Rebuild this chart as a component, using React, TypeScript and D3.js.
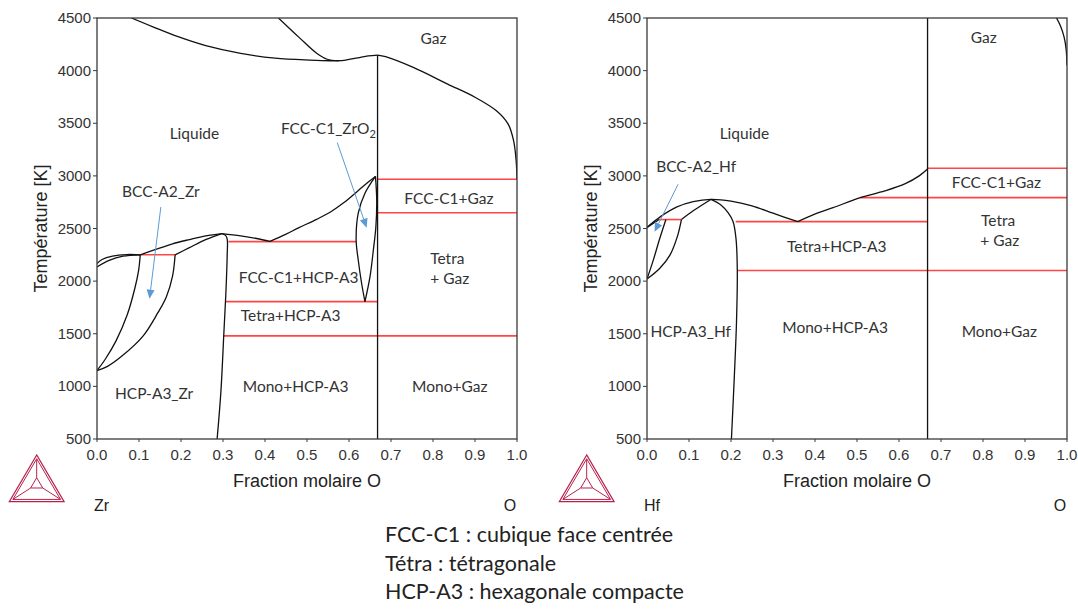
import React from "react";
import * as d3 from "d3";

// ---------- data (composition X = fraction molaire O, T in K) ----------
const xTicks = [0, 0.1, 0.2, 0.3, 0.4, 0.5, 0.6, 0.7, 0.8, 0.9, 1.0];
const yTicks = [500, 1000, 1500, 2000, 2500, 3000, 3500, 4000, 4500];

// Zr-O
const zrGasLiquidA = [[0.082,4500],[0.136,4411],[0.193,4322],[0.259,4237],[0.342,4164],[0.424,4119],[0.506,4100],[0.556,4094],[0.588,4098],[0.621,4122],[0.646,4140],[0.668,4148]];
const zrGasLiquidB = [[0.432,4500],[0.481,4316],[0.523,4165],[0.548,4108],[0.575,4094]];
const zrGasDew = [[0.668,4148],[0.687,4132],[0.753,4030],[0.835,3872],[0.901,3745],[0.951,3618],[0.979,3491],[0.992,3332],[0.998,3142],[1.0,2968]];
const zrOxideLine = [[0.668,4148],[0.668,500]];
const zrLiquidusLeftA = [[0,2167],[0.012,2205],[0.037,2237],[0.07,2252],[0.103,2250]];
const zrLiquidusLeftB = [[0,2135],[0.029,2198],[0.062,2237],[0.103,2250]];
const zrLiquidusMid = [[0.103,2250],[0.14,2302],[0.18,2355],[0.22,2395],[0.259,2430],[0.297,2452]];
const zrHcpSolidusUp = [[0.186,2250],[0.22,2318],[0.26,2396],[0.297,2452]];
const zrLiquidusPeakRight = [[0.297,2452],[0.342,2430],[0.38,2405],[0.412,2378]];
const zrLiquidusRight = [[0.412,2378],[0.449,2444],[0.481,2508],[0.523,2587],[0.556,2657],[0.588,2746],[0.621,2857],[0.646,2942],[0.663,2995]];
const zrHcpBoundary = [[0.297,2452],[0.306,2435],[0.310,2400],[0.310,2250],[0.307,1900],[0.302,1500],[0.295,950],[0.286,500]];
const zrFccLeft = [[0.663,2995],[0.638,2835],[0.622,2645],[0.617,2391],[0.622,2201],[0.630,1980],[0.638,1805]];
const zrFccRight = [[0.663,2995],[0.666,2771],[0.664,2517],[0.658,2296],[0.650,2042],[0.638,1805]];
const zrBccLeft = [[0.103,2250],[0.099,2100],[0.090,1930],[0.072,1680],[0.045,1430],[0.02,1260],[0,1150]];
const zrBccRight = [[0.186,2250],[0.180,2050],[0.165,1850],[0.145,1700],[0.110,1480],[0.06,1290],[0.025,1190],[0,1150]];
const zrInvariantT = [2968, 2650, 2375, 2250, 1805, 1480];
const zrInvariantFrom = [0.668, 0.668, 0.313, 0.103, 0.306, 0.300];
const zrInvariantTo = [1.0, 1.0, 0.617, 0.186, 0.668, 1.0];
const zrLabels = ["Gaz", "Liquide", "FCC-C1+Gaz", "Tetra", "+ Gaz", "FCC-C1+HCP-A3", "Tetra+HCP-A3", "HCP-A3_Zr", "Mono+HCP-A3", "Mono+Gaz", "BCC-A2_Zr", "FCC-C1_ZrO"];
const zrLabelX = [0.801, 0.232, 0.838, 0.834, 0.840, 0.480, 0.461, 0.136, 0.473, 0.840, 0.152, 0.551];
const zrLabelT = [4300, 3402, 2784, 2206, 2016, 2032, 1668, 929, 998, 998, 2850, 3450];
const zrArrows = [[[0.572,3317],[0.642,2508]], [[0.152,2704],[0.125,1833]]];

// Hf-O
const hfGasDew = [[0.975,4500],[0.985,4420],[0.993,4320],[0.998,4200],[1.0,4050]];
const hfOxideLine = [[0.668,4500],[0.668,500]];
const hfLiquidusLeft = [[0,2510],[0.033,2615],[0.07,2703],[0.11,2755],[0.152,2776],[0.2,2760],[0.25,2715],[0.3,2645],[0.359,2565]];
const hfLiquidusRight = [[0.359,2565],[0.402,2641],[0.443,2698],[0.508,2793],[0.566,2857],[0.615,2926],[0.648,3000],[0.668,3065]];
const hfBccTop = [[0,2510],[0.029,2585]];
const hfBccLeft = [[0.045,2585],[0.03,2400],[0.015,2200],[0,2020]];
const hfBccRight = [[0.082,2585],[0.072,2420],[0.055,2250],[0.030,2120],[0,2020]];
const hfSolidusUp = [[0.082,2585],[0.11,2668],[0.152,2776]];
const hfHcpBoundary = [[0.152,2776],[0.176,2723],[0.193,2650],[0.205,2565],[0.212,2400],[0.215,2100],[0.213,1600],[0.208,1100],[0.201,500]];
const hfInvariantT = [3072, 2793, 2565, 2101, 2585];
const hfInvariantFrom = [0.668, 0.508, 0.211, 0.215, 0.029];
const hfInvariantTo = [1.0, 1.0, 0.668, 1.0, 0.082];
const hfLabels = ["Gaz", "Liquide", "BCC-A2_Hf", "FCC-C1+Gaz", "Tetra", "+ Gaz", "Tetra+HCP-A3", "HCP-A3_Hf", "Mono+HCP-A3", "Mono+Gaz"];
const hfLabelX = [0.802, 0.232, 0.117, 0.832, 0.836, 0.840, 0.452, 0.104, 0.448, 0.839];
const hfLabelT = [4307, 3402, 3088, 2936, 2571, 2381, 2324, 1516, 1554, 1516];
const hfArrows = [[[0.074,2920],[0.018,2470]]];

const legendLines = ["FCC-C1 : cubique face centrée", "Tétra : tétragonale", "HCP-A3 : hexagonale compacte"];

// ---------- drawing ----------
const W = 1078, H = 611;
const TOP = 18, BOTTOM = 439;
const LINE = "#111";
const RED = "#ff4646";
const BLUE = "#5b9bd5";
const LOGO = "#b8204d";
const SANS = "Liberation Sans, Arial, sans-serif";
const LAB = "Lato, Carlito, sans-serif";

function Arrow({ x1, y1, x2, y2 }) {
  const ang = Math.atan2(y2 - y1, x2 - x1);
  const L = 9, Wd = 4;
  const bx = x2 - L * Math.cos(ang), by = y2 - L * Math.sin(ang);
  const px = -Math.sin(ang) * Wd, py = Math.cos(ang) * Wd;
  return (
    <g>
      <line x1={x1} y1={y1} x2={bx} y2={by} stroke={BLUE} strokeWidth={1} />
      <path d={`M${x2},${y2}L${bx + px},${by + py}L${bx - px},${by - py}Z`} fill={BLUE} />
    </g>
  );
}

function Logo({ cx }) {
  const apex = [cx, 455], bl = [cx - 27.4, 501.7], br = [cx + 27.4, 501.7];
  const c = [cx, (455 + 501.7 * 2) / 3 - 2];
  const sc = (p, k) => [c[0] + (p[0] - c[0]) * k, c[1] + (p[1] - c[1]) * k];
  const tri = (k) => {
    const a = sc(apex, k), b = sc(bl, k), d = sc(br, k);
    return `M${a[0]},${a[1]}L${b[0]},${b[1]}L${d[0]},${d[1]}Z`;
  };
  const inner = [sc(apex, 0.87), sc(bl, 0.87), sc(br, 0.87)];
  const small = [sc(apex, 0.22), sc(bl, 0.22), sc(br, 0.22)];
  return (
    <g stroke={LOGO} strokeWidth={1} fill="none">
      <path d={tri(1)} strokeWidth={1.2} />
      <path d={tri(0.87)} />
      <path d={tri(0.22)} />
      {inner.map((p, i) => (
        <line key={i} x1={p[0]} y1={p[1]} x2={small[i][0]} y2={small[i][1]} />
      ))}
    </g>
  );
}

function Panel({ x0, x1, curves, smooth, invT, invFrom, invTo, labels, labelX, labelT, arrows, elem, sub }) {
  const x = d3.scaleLinear().domain([0, 1]).range([x0, x1]);
  const y = d3.scaleLinear().domain([500, 4500]).range([BOTTOM, TOP]);
  const lineSmooth = d3.line().x((d) => x(d[0])).y((d) => y(d[1])).curve(d3.curveCatmullRom.alpha(0.5));
  const lineStraight = d3.line().x((d) => x(d[0])).y((d) => y(d[1]));
  const tickFont = { fontFamily: SANS, fontSize: 15, fill: "#333" };
  const labFont = { fontFamily: LAB, fontSize: 15.5, fill: "#333" };
  const midY = (TOP + BOTTOM) / 2;
  return (
    <g>
      <defs>
        <clipPath id={`clip-${x0}`}>
          <rect x={x0} y={TOP} width={x1 - x0} height={BOTTOM - TOP} />
        </clipPath>
      </defs>
      <g clipPath={`url(#clip-${x0})`}>
        {invT.map((t, i) => (
          <line key={i} x1={x(invFrom[i])} x2={x(invTo[i])} y1={y(t)} y2={y(t)} stroke={RED} strokeWidth={1.6} />
        ))}
        {curves.map((c, i) => (
          <path key={i} d={(smooth[i] ? lineSmooth : lineStraight)(c)} fill="none" stroke={LINE} strokeWidth={1.3} />
        ))}
      </g>
      <rect x={x0} y={TOP} width={x1 - x0} height={BOTTOM - TOP} fill="none" stroke="#3a3a3a" strokeWidth={1.3} />
      {yTicks.map((t) => (
        <g key={t}>
          <line x1={x0 - 4} x2={x0} y1={y(t)} y2={y(t)} stroke="#3a3a3a" strokeWidth={1} />
          <text x={x0 - 6} y={y(t) + 5} textAnchor="end" {...tickFont}>{t}</text>
        </g>
      ))}
      {xTicks.map((t) => (
        <g key={t}>
          <line x1={x(t)} x2={x(t)} y1={BOTTOM} y2={BOTTOM + 3} stroke="#3a3a3a" strokeWidth={1} />
          <text x={x(t)} y={BOTTOM + 21} textAnchor="middle" {...tickFont}>{t.toFixed(1)}</text>
        </g>
      ))}
      <text x={(x0 + x1) / 2} y={487} textAnchor="middle" fontFamily={SANS} fontSize={18} fill="#222">Fraction molaire O</text>
      <text transform={`translate(${x0 - 50},${midY}) rotate(-90)`} textAnchor="middle" fontFamily={SANS} fontSize={18} fill="#222">Température [K]</text>
      <text x={x0 - 3} y={511} fontFamily={SANS} fontSize={16} fill="#222">{elem}</text>
      <text x={x1 - 7} y={511} textAnchor="middle" fontFamily={SANS} fontSize={16} fill="#222">O</text>
      {labels.map((s, i) => (
        <text key={i} x={x(labelX[i])} y={y(labelT[i]) + 5} textAnchor="middle" {...labFont}>
          {s}
          {sub && s === "FCC-C1_ZrO" ? <tspan fontSize={11} dy={4}>2</tspan> : null}
        </text>
      ))}
      {arrows.map((a, i) => (
        <Arrow key={i} x1={x(a[0][0])} y1={y(a[0][1])} x2={x(a[1][0])} y2={y(a[1][1])} />
      ))}
      <Logo cx={x0 - 60.3} />
    </g>
  );
}

export default function App() {
  const zrCurves = [zrGasLiquidA, zrGasLiquidB, zrGasDew, zrOxideLine, zrLiquidusLeftA, zrLiquidusLeftB, zrLiquidusMid, zrHcpSolidusUp, zrLiquidusPeakRight, zrLiquidusRight, zrHcpBoundary, zrFccLeft, zrFccRight, zrBccLeft, zrBccRight];
  const zrSmooth = [1, 1, 1, 0, 1, 1, 1, 1, 1, 1, 1, 1, 1, 1, 1];
  const hfCurves = [hfGasDew, hfOxideLine, hfLiquidusLeft, hfLiquidusRight, hfBccTop, hfBccLeft, hfBccRight, hfSolidusUp, hfHcpBoundary];
  const hfSmooth = [1, 0, 1, 1, 0, 1, 1, 1, 1];
  return (
    <svg width={W} height={H} style={{ position: "absolute", left: 0, top: 0, background: "#fff" }}>
      <rect width={W} height={H} fill="#fff" />
      <Panel x0={97} x1={517} curves={zrCurves} smooth={zrSmooth} invT={zrInvariantT} invFrom={zrInvariantFrom} invTo={zrInvariantTo}
        labels={zrLabels} labelX={zrLabelX} labelT={zrLabelT} arrows={zrArrows} elem="Zr" sub={true} />
      <Panel x0={647} x1={1067} curves={hfCurves} smooth={hfSmooth} invT={hfInvariantT} invFrom={hfInvariantFrom} invTo={hfInvariantTo}
        labels={hfLabels} labelX={hfLabelX} labelT={hfLabelT} arrows={hfArrows} elem="Hf" sub={false} />
      {legendLines.map((s, i) => (
        <text key={i} x={385} y={542 + i * 28.5} fontFamily={LAB} fontSize={21.5} fill="#222">{s}</text>
      ))}
    </svg>
  );
}
